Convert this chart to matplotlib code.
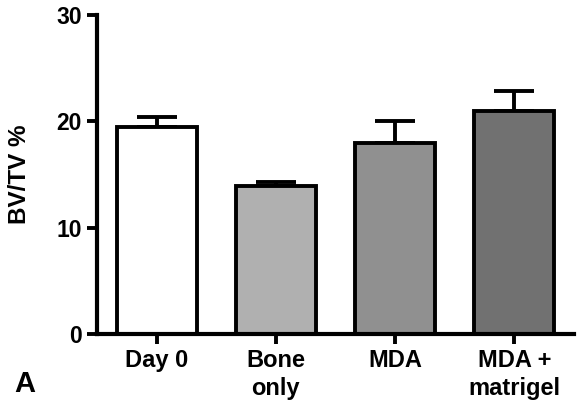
import matplotlib
matplotlib.use("Agg")
import matplotlib.pyplot as plt

categories = ["Day 0", "Bone\nonly", "MDA", "MDA +\nmatrigel"]
values = [19.5, 13.95, 17.95, 20.95]
errors = [0.95, 0.3, 2.05, 1.9]
colors = ["#ffffff", "#b0b0b0", "#909090", "#717171"]
yticks = [0, 10, 20, 30]

plt.rcParams['font.family'] = ['Liberation Sans', 'DejaVu Sans']
plt.rcParams['font.weight'] = 'bold'

fig = plt.figure(figsize=(5.78, 4.04), dpi=100)
ax = fig.add_axes([97/578, 70/404, 477/578, 319/404])

x = list(range(len(categories)))
ax.bar(x, values, width=0.67, color=colors, edgecolor="black", linewidth=2.8, zorder=2)
ax.errorbar(x, values, yerr=[[0]*len(errors), errors], fmt="none", ecolor="black",
            elinewidth=2.8, capsize=14.5, capthick=2.8, zorder=1)

ax.set_xlim(-0.5, 3.5)
ax.set_ylim(0, 30)
ax.set_yticks(yticks)
ax.set_xticks(x)
ax.set_xticklabels(categories, fontsize=17, fontweight='bold', linespacing=1.25)
ax.set_yticklabels([str(t) for t in yticks], fontsize=16.5, fontweight='bold')
for s in ['top', 'right']:
    ax.spines[s].set_visible(False)
for s in ['left', 'bottom']:
    ax.spines[s].set_linewidth(3)
ax.tick_params(axis='both', length=7.5, width=2.8, pad=3.5)
ax.set_ylabel("BV/TV %", fontsize=17.5, fontweight='bold')
ax.yaxis.set_label_coords(-0.138, 0.5)

fig.text(14/578, 1 - 392/404, "A", fontsize=21, fontweight='bold', ha='left', va='baseline')

fig.savefig("out.png", dpi=100)
